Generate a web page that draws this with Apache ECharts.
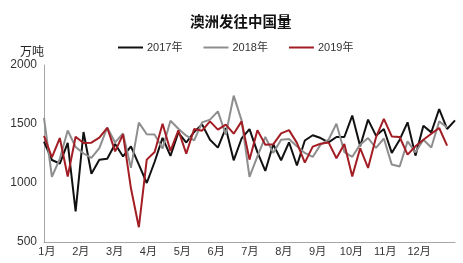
<!DOCTYPE html>
<html>
<head>
<meta charset="utf-8">
<script src="https://cdn.jsdelivr.net/npm/echarts@6/dist/echarts.min.js"></script>
<style>html,body{margin:0;padding:0;background:#fff;}#c{width:463px;height:263px;}</style>
</head>
<body>
<div id="c"></div>
<script>
var weeks = [];
for (var k = 1; k <= 53; k++) weeks.push(String(k));
var months = ['1月','2月','3月','4月','5月','6月','7月','8月','9月','10月','11月','12月'];
var yTicks = [500, 1000, 1500, 2000];
var seriesNames = ['2017年','2018年','2019年'];
var s2017 = [1350,1195,1165,1340,760,1432,1078,1197,1205,1330,1225,1310,1155,1000,1180,1382,1230,1428,1343,1433,1497,1367,1300,1466,1192,1377,1456,1262,1102,1328,1193,1345,1148,1360,1405,1381,1344,1390,1390,1571,1311,1537,1401,1458,1255,1367,1514,1232,1486,1429,1627,1458,1531];
var s2018 = [1552,1053,1205,1445,1305,1250,1212,1295,1470,1344,1420,1128,1512,1413,1410,1292,1527,1460,1401,1361,1514,1537,1607,1410,1740,1531,1051,1226,1390,1255,1367,1373,1311,1255,1221,1325,1367,1503,1262,1222,1325,1381,1297,1377,1156,1140,1353,1260,1367,1301,1522,1470];
var s2019 = [1400,1218,1381,1055,1392,1339,1342,1385,1468,1268,1412,955,625,1198,1262,1502,1272,1447,1249,1458,1443,1522,1452,1494,1418,1522,1198,1448,1325,1328,1420,1448,1340,1173,1308,1333,1344,1210,1330,1056,1295,1128,1386,1543,1395,1390,1240,1311,1367,1418,1466,1316];

var colors = ['#111111', '#8e8e8e', '#a31d24'];
var font = 'Arial, "Liberation Sans", "Noto Sans CJK SC", sans-serif';

var chart = echarts.init(document.getElementById('c'), null, {renderer: 'canvas'});
chart.setOption({
  animation: false,
  backgroundColor: '#ffffff',
  textStyle: {fontFamily: font},
  title: [
    {text: '澳洲发往中国量', left: 185, top: 9,
     textStyle: {fontSize: 14.5, fontWeight: 'bold', color: '#111', fontFamily: '"Noto Sans CJK SC", sans-serif'}},
    {text: '万吨', left: 15, top: 40,
     textStyle: {fontSize: 12, fontWeight: 'normal', color: '#222', fontFamily: '"Noto Sans CJK SC", sans-serif'}}
  ],
  legend: {
    data: seriesNames,
    left: 113, top: 37,
    icon: 'rect', itemWidth: 25, itemHeight: 2, itemGap: 21,
    textStyle: {fontSize: 11, color: '#333', fontFamily: font, padding: [0,0,0,-1]}
  },
  grid: [
    {left: 44, right: 8, top: 65, bottom: 21},
    {left: 30, right: 27, top: 65, bottom: 21}
  ],
  xAxis: [
    {type: 'category', gridIndex: 0, data: weeks, boundaryGap: false,
     axisLine: {lineStyle: {color: '#a6a6a6', width: 1}},
     axisTick: {show: false}, axisLabel: {show: false}, splitLine: {show: false}},
    {type: 'category', gridIndex: 1, data: months, boundaryGap: true,
     axisLine: {show: false}, axisTick: {show: false}, splitLine: {show: false},
     axisLabel: {margin: 4, fontSize: 11, color: '#333', fontFamily: font}}
  ],
  yAxis: [
    {type: 'value', gridIndex: 0, min: yTicks[0], max: yTicks[yTicks.length-1], interval: 500,
     axisLine: {show: true, lineStyle: {color: '#a6a6a6', width: 1}},
     axisTick: {show: false}, splitLine: {show: false},
     axisLabel: {margin: 7, fontSize: 12, color: '#333', fontFamily: font,
                 formatter: function (v) { return String(v); }}},
    {type: 'value', gridIndex: 1, min: 0, max: 1, show: false}
  ],
  series: [
    {name: seriesNames[0], type: 'line', data: s2017, xAxisIndex: 0, yAxisIndex: 0,
     symbol: 'none', lineStyle: {color: colors[0], width: 2}, itemStyle: {color: colors[0]}},
    {name: seriesNames[1], type: 'line', data: s2018, xAxisIndex: 0, yAxisIndex: 0,
     symbol: 'none', lineStyle: {color: colors[1], width: 2}, itemStyle: {color: colors[1]}},
    {name: seriesNames[2], type: 'line', data: s2019, xAxisIndex: 0, yAxisIndex: 0,
     symbol: 'none', lineStyle: {color: colors[2], width: 2}, itemStyle: {color: colors[2]}}
  ]
});
</script>
</body>
</html>
